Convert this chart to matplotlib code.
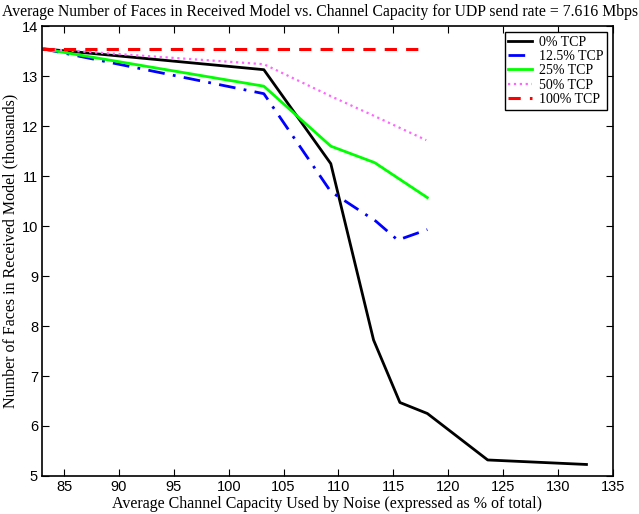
import matplotlib
matplotlib.use('Agg')
import matplotlib.pyplot as plt
import numpy as np

# noise level (% of channel capacity) and faces received (thousands)
x_0 = [83.0, 103.2, 109.3, 113.2, 115.6, 118.1, 123.6, 132.6]
y_0 = [13.55, 13.13, 11.25, 7.72, 6.47, 6.25, 5.32, 5.23]

x_125 = [83.0, 103.2, 109.3, 113.4, 115.4, 118.1]
y_125 = [13.55, 12.65, 10.69, 10.1, 9.72, 9.93]

x_25 = [83.0, 103.2, 109.3, 113.3, 115.7, 118.1]
y_25 = [13.55, 12.8, 11.6, 11.27, 10.92, 10.57]

x_50 = [83.0, 103.2, 109.3, 113.3, 118.0]
y_50 = [13.55, 13.24, 12.6, 12.2, 11.72]

x_100 = [83.0, 118.0]
y_100 = [13.55, 13.55]

serif = 'Liberation Serif'
sans = 'Liberation Sans'

fg = plt.figure(figsize=(6.39, 5.14), dpi=100)
ax = fg.add_axes([0.066, 0.074, 0.893, 0.875])

ax.plot(x_0, y_0, '-', color='k', lw=2, label='0% TCP')
ax.plot(x_125, y_125, '-.', color='b', lw=2, dashes=(6, 3, 1, 3), label='12.5% TCP')
ax.plot(x_25, y_25, '-', color='#00ff00', lw=2, label='25% TCP')
ax.plot(x_50, y_50, ':', color='#ff66ff', lw=1.6, label='50% TCP')
ax.plot(x_100, y_100, '--', color='r', lw=2.2, dashes=(4, 3), label='100% TCP')

ax.set_xlim(83, 135)
ax.set_ylim(5, 14)
ax.set_xticks(np.arange(85, 136, 5))
ax.set_yticks(np.arange(5, 15, 1))
ax.tick_params(direction='in', top=True, right=True, length=5, labelsize=10.5, pad=3)
for lab in ax.get_xticklabels() + ax.get_yticklabels():
    lab.set_family(sans)
for sp in ax.spines.values():
    sp.set_linewidth(1.2)

fg.text(0.501, 0.992, 'Average Number of Faces in Received Model vs. Channel Capacity for UDP send rate = 7.616 Mbps',
        family=serif, fontsize=11.3, ha='center', va='top')
ax.set_xlabel('Average Channel Capacity Used by Noise (expressed as % of total)', family=serif,
              fontsize=11.5, labelpad=1)
ax.set_ylabel('Number of Faces in Received Model (thousands)', family=serif, fontsize=11.5, labelpad=2)

leg = ax.legend(loc='upper right', prop={'family': serif, 'size': 10}, fancybox=False,
                edgecolor='k', framealpha=1, borderpad=0.25, labelspacing=0.1, handlelength=1.7,
                handletextpad=0.5, borderaxespad=0, bbox_to_anchor=(0.9895, 0.987))
leg.get_frame().set_linewidth(1.0)

fg.savefig('out.png', dpi=100)
